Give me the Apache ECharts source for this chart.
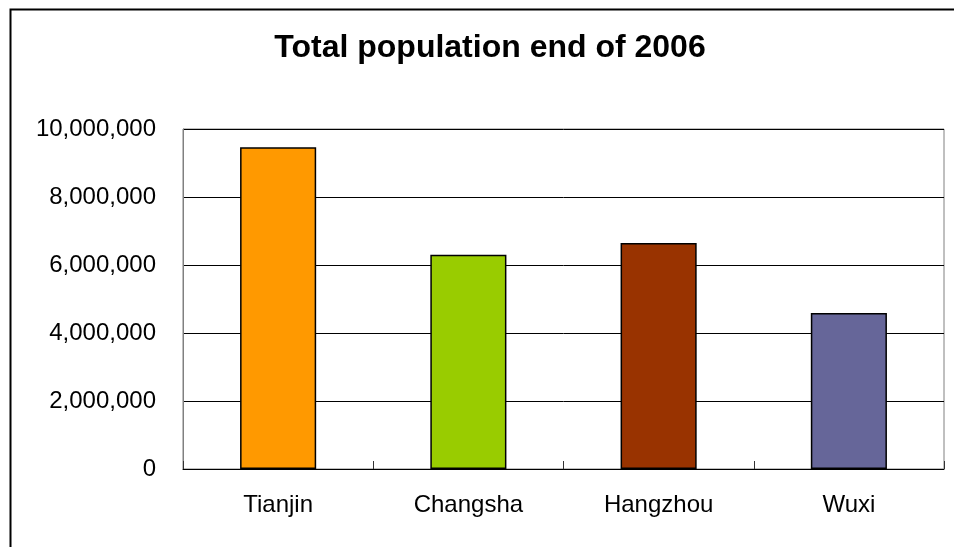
<!DOCTYPE html>
<html>
<head>
<meta charset="utf-8">
<script src="https://cdn.jsdelivr.net/npm/echarts@6/dist/echarts.min.js"></script>
<style>
html,body{margin:0;padding:0;background:#fff;}
#chart{width:954px;height:547px;}
</style>
</head>
<body>
<div id="chart"></div>
<script>
const categories = ['Tianjin', 'Changsha', 'Hangzhou', 'Wuxi'];
const population = [9460000, 6300000, 6650000, 4590000];
const yTicks = [0, 2000000, 4000000, 6000000, 8000000, 10000000];
const titleText = 'Total population end of 2006';

const barColors = ['#FF9900', '#99CC00', '#993300', '#666699'];
const FONT = '"Liberation Sans", Arial, sans-serif';

const chart = echarts.init(document.getElementById('chart'), null, {renderer: 'canvas'});
chart.setOption({
  animation: false,
  backgroundColor: '#ffffff',
  title: {
    text: titleText,
    left: 485,
    textAlign: 'center',
    top: 27,
    textStyle: {fontFamily: FONT, fontSize: 32, fontWeight: 'bold', color: '#000'}
  },
  graphic: [{
    type: 'rect',
    left: 8, top: 7,
    shape: {x: 0, y: 0, width: 2000, height: 2000},
    style: {fill: 'none', stroke: '#000', lineWidth: 2},
    silent: true
  }],
  grid: {
    left: 183, top: 129, right: 10, bottom: 78,
    show: true, borderColor: '#808080', borderWidth: 1, backgroundColor: 'transparent'
  },
  xAxis: {
    type: 'category',
    data: categories,
    axisLine: {lineStyle: {color: '#000', width: 1}},
    axisTick: {show: true, inside: true, length: 8, lineStyle: {color: '#333'}},
    axisLabel: {fontFamily: FONT, fontSize: 24, color: '#000', margin: 24}
  },
  yAxis: {
    type: 'value',
    min: yTicks[0],
    max: yTicks[yTicks.length - 1],
    interval: yTicks[1] - yTicks[0],
    axisLine: {show: true, lineStyle: {color: '#808080', width: 1}},
    axisTick: {show: false},
    splitLine: {show: true, lineStyle: {color: '#000', width: 1}},
    axisLabel: {
      fontFamily: FONT, fontSize: 24, color: '#000', margin: 27,
      formatter: v => v.toLocaleString('en-US')
    }
  },
  series: [{
    type: 'bar',
    barWidth: '40%',
    data: population.map((v, i) => ({
      value: v,
      itemStyle: {color: barColors[i], borderColor: '#000', borderWidth: 1.5}
    }))
  }]
});
</script>
</body>
</html>
